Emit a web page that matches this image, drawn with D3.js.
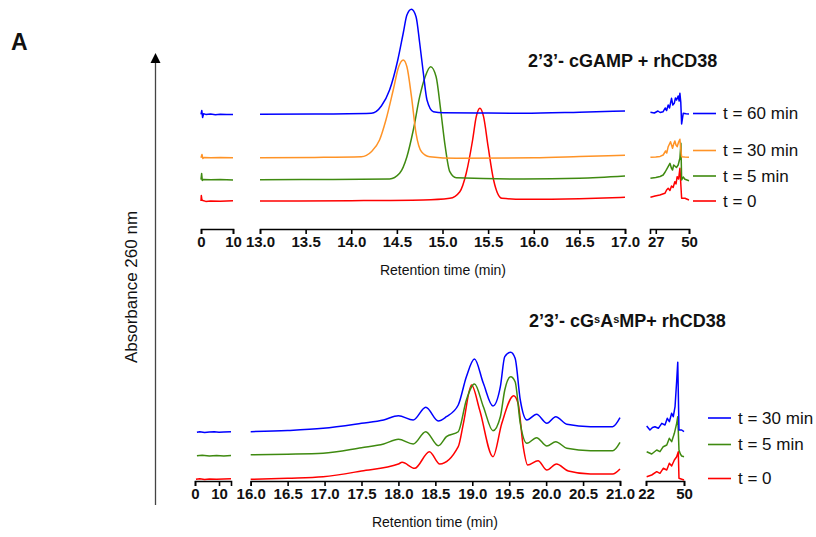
<!DOCTYPE html>
<html>
<head>
<meta charset="utf-8">
<script src="https://cdn.jsdelivr.net/npm/d3@7/dist/d3.min.js"></script>
<style>
  body { margin: 0; background: #fff; }
  svg { font-family: "Liberation Sans", Arial, sans-serif; }
</style>
</head>
<body>
<svg id="chart" width="816" height="537"></svg>
<script>
// Top panel: 2'3'-cGAMP + rhCD38, points are [retention time (min), absorbance (stacked, a.u.)]
const topLabels = ["t = 0", "t = 5 min", "t = 30 min", "t = 60 min"];
const topColors = ["#ff0000", "#3f8a10", "#ff9326", "#0000ff"];

const topT0 = [
  [0,28],[0.1,33.5],[0.3,29],[0.6,28.5],[1.5,27.6],[3,28],[6,27.8],[10,28.2],
  [13.0,28],[14.0,28.3],[14.79,29],[15.08,30.7],[15.19,37.3],[15.26,55.7],[15.33,89],[15.37,112.3],[15.41,120.7],
  [15.45,112.3],[15.50,82.3],[15.56,49],[15.65,30.7],[15.89,29.7],[16.5,30.3],[17.0,31.7],
  [23.3,31.7],[26.5,33],[29.8,34],[33.3,35.7],[34.5,39],[35.6,40.7],[36.8,38.5],[37.9,43],[39,41.5],[40.2,47.3],
  [41,45],[41.8,52.3],[42.8,50],[43.7,60.7],[44.9,30.7],[47.2,30.7],[50,29]
];
const topT5 = [
  [0,49.3],[0.2,55.5],[0.4,48.5],[0.8,49.6],[3,49.2],[6,49.5],[10,49.1],
  [13.0,49.3],[13.8,49.6],[14.42,50],[14.53,55.7],[14.61,72.3],[14.68,99],[14.75,132.3],[14.81,152.3],[14.87,162.3],
  [14.93,152.3],[14.98,119],[15.03,82.3],[15.08,57.3],[15.15,51.3],[15.89,50],[16.5,50.8],[17.0,53],
  [23.3,50.7],[27,51.5],[30,52.5],[32.1,54],[33.5,57],[34.9,60.7],[36.8,65.7],[37.8,61],[38.6,59],[39.4,64],[40.2,63],
  [41.3,61.5],[42.5,64],[43.2,68],[43.7,70.7],[44.4,85.7],[44.9,49],[46,52],[47.2,49.7],[50,48.3]
];
const topT30 = [
  [0,71.3],[0.3,74.5],[0.6,70.5],[1,71.5],[3,71.2],[6,71.4],[10,71.2],
  [13.0,71.3],[13.6,71.6],[14.11,72.3],[14.22,77.3],[14.31,89],[14.38,109],[14.46,139],[14.52,162.3],[14.57,169],
  [14.61,162.3],[14.66,132.3],[14.71,95.7],[14.77,77.3],[14.86,72.3],[15.15,70.7],[16.0,71.2],[16.5,72.4],[17.0,73.7],
  [23.3,71.7],[27,72],[30,72.6],[32.1,74],[33.8,78],[34.6,76],[35.6,82.3],[37.2,87.3],[38.6,80.7],[39.4,85],[40.2,88],
  [41,84],[41.8,82.3],[42.8,87],[43.7,89.7],[44.3,80],[44.9,72.3],[47,72],[50,71.7]
];
const topT60 = [
  [0,114.7],[0.25,118.5],[0.5,111.5],[0.8,115.2],[1.5,114.6],[3,114.9],[4.5,114.3],[6,114.8],[8,114.4],[10,114.6],
  [13.0,114.7],[13.6,114.9],[14.22,115.7],[14.33,123],[14.42,139],[14.51,169],[14.57,196],[14.61,214],[14.66,219.7],
  [14.71,212.3],[14.75,186],[14.79,156],[14.83,129],[14.90,117.3],[15.01,116.3],[15.5,116],[15.89,115.7],[16.5,116.8],[17.0,118],
  [23.3,116.7],[26,116],[28.5,118],[30,116.5],[32.1,117.3],[33.5,121],[34.5,118.5],[35.6,124],[36.5,121],[37.9,130.7],
  [38.8,124],[39.8,125.7],[40.6,131],[41.4,129],[42.5,133],[43.2,128],[43.7,135.7],[44.3,127],[44.9,105],[46.0,115.7],[48,115.3],[50,115]
];

// Bottom panel: 2'3'-cGsAsMP + rhCD38
const botLabels = ["t = 0", "t = 5 min", "t = 30 min"];
const botColors = ["#ff0000", "#3f8a10", "#0000ff"];

const botT0 = [
  [0.4,1.7],[2,2.2],[4,1.5],[6,2],[9,1.8],[12,2.1],[15,2.3],
  [16.0,1.7],[16.5,2.8],[16.98,4.3],[17.5,10],[18.0,17],[18.05,18.7],[18.22,12.7],[18.42,29.3],[18.56,17],[18.81,34.3],
  [18.88,57.7],[18.99,96],[19.10,71],[19.28,24.3],[19.40,57.7],[19.56,85.3],[19.62,77.7],[19.69,34.3],[19.75,16],
  [19.89,20.3],[20.01,11],[20.14,17],[20.3,10],[20.6,7],[20.9,7],[21.0,12],
  [22.5,4.3],[26.2,6],[29.9,9.3],[32.3,7.7],[34.7,12.7],[37.3,11],[39.2,17.7],[40.9,15],[42.9,21],[44.6,24.3],
  [45.8,29.3],[46.3,2.7],[50,1]
];
const botT5 = [
  [0.8,25.3],[3,25.7],[6,25],[9,25.5],[12,25.1],[15,25.6],
  [16.0,26.3],[16.5,26.8],[16.98,27.7],[17.5,33.3],[17.8,37],[18.0,41.7],[18.2,37],[18.37,49.3],[18.54,35.3],[18.65,44.3],
  [18.81,49.3],[18.92,81],[19.03,97],[19.15,74.3],[19.28,50.3],[19.38,64.3],[19.44,91],[19.52,104.3],[19.58,99.3],
  [19.65,57.7],[19.74,37.7],[19.87,43.3],[20.01,35],[20.13,39.3],[20.28,32.7],[20.6,30.3],[20.9,30.3],[21.0,38.7],
  [22.5,29.3],[26.2,27],[29.9,31],[32.3,29.3],[34.7,34.3],[37.3,36],[39.2,42.7],[40.9,39.3],[42.9,47.7],[44.6,57.7],
  [45.4,64.3],[46.3,31],[47.3,27],[48.3,25],[50,24.3]
];
const botT30 = [
  [0.8,48.7],[2,49.2],[4,48.5],[6,48.9],[8,49.3],[10,48.7],[12,49],[15,49.3],
  [16.0,49.3],[16.5,50.5],[16.98,52.7],[17.5,57.7],[17.8,61],[18.0,65.3],[18.2,61],[18.37,73.7],[18.54,60],[18.65,64.3],
  [18.81,76],[18.92,104.3],[19.03,122],[19.15,97.7],[19.28,75],[19.38,94.3],[19.44,124.3],[19.52,128.7],[19.58,122.7],
  [19.65,81],[19.74,61],[19.87,66.7],[20.01,57.7],[20.13,64.3],[20.28,56.7],[20.6,54.3],[20.9,54.3],[21.0,63.3],
  [22.5,55],[24.9,51],[26.8,53.5],[28.6,54.3],[31.1,52.7],[33.6,57.7],[36.0,56],[37.7,62.7],[39.2,59.3],[40.9,67.7],
  [42.1,64.3],[43.4,74.3],[44.6,100],[45.4,118.7],[46.3,51],[48.3,51],[50,49.3]
];

// axis break segments: domains and tick values
const topDomains = [[0, 10], [13, 17], [23, 50]];
const topTicks = [[0, 10], d3.range(13, 17.01, 0.5), [27, 50]];
const botDomains = [[0, 15], [16, 21], [22, 50]];
const botTicks = [[0, 10], d3.range(16, 21.01, 0.5), [22, 50]];

const svg = d3.select("#chart");
const FONT = "'Liberation Sans', Arial, sans-serif";

function drawPanel(p) {
  const g = svg.append("g");
  const y = d3.scaleLinear().domain(p.yDomain).range([p.axisY, p.topY]);

  p.domains.forEach((dom, i) => {
    const x = d3.scaleLinear().domain(dom).range(p.ranges[i]);
    const fmt = i === 1 ? d3.format(".1f") : d3.format("d");

    const axis = g.append("g")
      .attr("transform", `translate(0,${p.axisY})`)
      .call(d3.axisBottom(x).tickValues(p.ticks[i]).tickFormat(fmt).tickSize(5).tickSizeOuter(5).tickPadding(2));
    axis.selectAll("path, line").attr("stroke", "#000").attr("stroke-width", 1.6);
    axis.selectAll("text")
      .attr("fill", "#111")
      .attr("font-family", FONT)
      .attr("font-weight", "bold")
      .attr("font-size", "15px");

    const line = d3.line()
      .x(d => x(d[0]))
      .y(d => y(d[1]))
      .curve(i === 1 ? d3.curveMonotoneX : d3.curveLinear);

    p.series.forEach((s, k) => {
      const pts = s.filter(d => d[0] >= dom[0] && d[0] <= dom[1]);
      g.append("path")
        .datum(pts)
        .attr("fill", "none")
        .attr("stroke", p.colors[k])
        .attr("stroke-width", 1.5)
        .attr("stroke-linejoin", "round")
        .attr("d", line);
    });
  });

  // x axis title
  g.append("text")
    .attr("x", p.titleX)
    .attr("y", p.axisY + 46)
    .attr("text-anchor", "middle")
    .attr("font-size", "14px")
    .attr("fill", "#111")
    .text("Retention time (min)");

  // legend
  p.labels.forEach((lab, k) => {
    g.append("line")
      .attr("x1", p.legendX).attr("x2", p.legendX + 23)
      .attr("y1", p.legendY[k]).attr("y2", p.legendY[k])
      .attr("stroke", p.colors[k]).attr("stroke-width", 1.6);
    g.append("text")
      .attr("x", p.legendX + 30)
      .attr("y", p.legendY[k])
      .attr("dy", "0.35em")
      .attr("font-size", "17px")
      .attr("fill", "#111")
      .text(lab);
  });
  return g;
}

drawPanel({
  domains: topDomains, ticks: topTicks,
  ranges: [[201, 233], [260, 625], [650, 689]],
  yDomain: [0, 220], axisY: 229, topY: 9,
  series: [topT0, topT5, topT30, topT60], colors: topColors, labels: topLabels,
  legendX: 693, legendY: [201, 176, 150.5, 113.5], titleX: 443
});

drawPanel({
  domains: botDomains, ticks: botTicks,
  ranges: [[195, 231], [250.7, 620], [646, 684]],
  yDomain: [0, 140], axisY: 481, topY: 341,
  series: [botT0, botT5, botT30], colors: botColors, labels: botLabels,
  legendX: 708, legendY: [478.5, 444.5, 418], titleX: 435
});

// panel titles
svg.append("text")
  .attr("x", 528).attr("y", 67)
  .attr("font-size", "18px").attr("font-weight", "bold").attr("fill", "#111")
  .text("2’3’- cGAMP + rhCD38");

const t2 = svg.append("text")
  .attr("x", 529).attr("y", 327)
  .attr("font-size", "18px").attr("font-weight", "bold").attr("fill", "#111");
t2.append("tspan").text("2’3’- cG");
t2.append("tspan").attr("font-size", "11px").attr("dy", -4).text("s");
t2.append("tspan").attr("dy", 4).text("A");
t2.append("tspan").attr("font-size", "11px").attr("dy", -4).text("s");
t2.append("tspan").attr("dy", 4).text("MP+ rhCD38");

// panel letter
svg.append("text")
  .attr("x", 11).attr("y", 50)
  .attr("font-size", "23px").attr("font-weight", "bold").attr("fill", "#111")
  .text("A");

// y axis arrow
svg.append("line")
  .attr("x1", 155.5).attr("x2", 155.5)
  .attr("y1", 62).attr("y2", 505)
  .attr("stroke", "#444").attr("stroke-width", 1.3);
svg.append("path")
  .attr("d", "M155.5,53 L150.5,63 L160.5,63 Z")
  .attr("fill", "#000");
svg.append("text")
  .attr("transform", "translate(137,287) rotate(-90)")
  .attr("text-anchor", "middle")
  .attr("font-size", "17px")
  .attr("fill", "#111")
  .text("Absorbance 260 nm");
</script>
</body>
</html>
